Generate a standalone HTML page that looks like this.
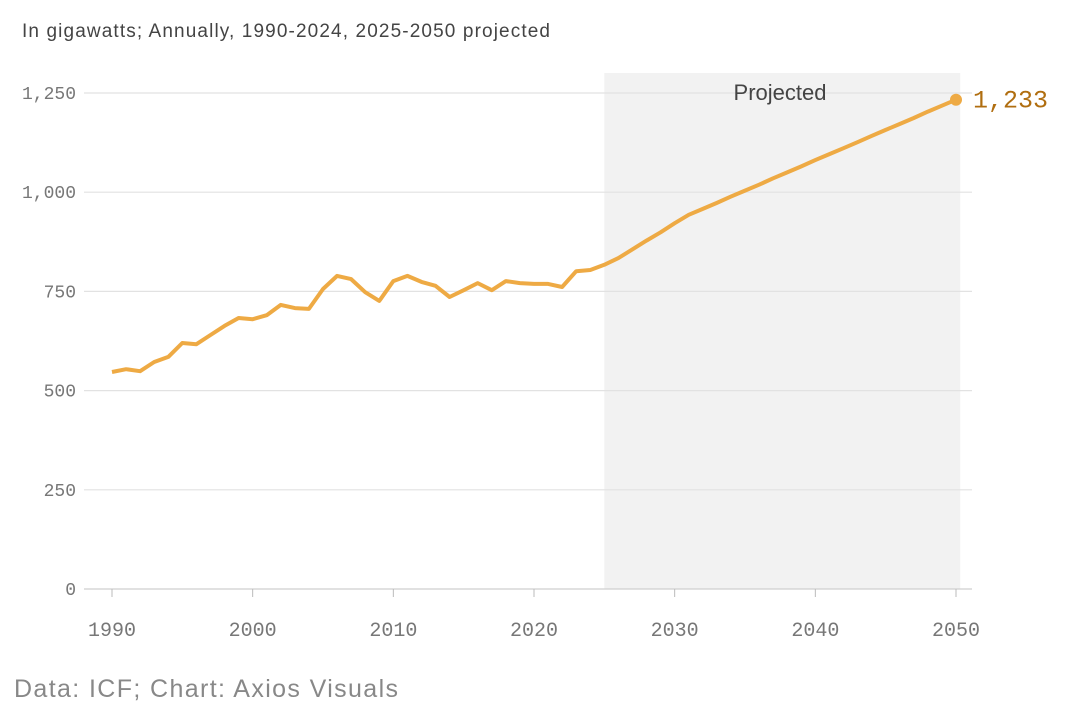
<!DOCTYPE html>
<html><head><meta charset="utf-8"><style>
body{margin:0;background:#fff;width:1082px;height:716px;overflow:hidden;font-family:"Liberation Sans",sans-serif}
svg text{font-family:"Liberation Sans",sans-serif}
svg text.mono{font-family:"Liberation Mono",monospace}
</style></head><body>
<svg width="1082" height="716">
<text x="22" y="37" font-size="19" textLength="528" fill="#444">In gigawatts; Annually, 1990-2024, 2025-2050 projected</text>
<rect id="proj" fill="#f2f2f2"></rect>
<g id="grid"></g>
<g id="xt"></g>
<text id="projlabel" font-size="22" fill="#444" text-anchor="middle">Projected</text>
<path id="line" fill="none" stroke="#eeaa44" stroke-width="4" stroke-linejoin="round"></path>
<circle id="endpt" r="6" fill="#eeaa44"></circle>
<text id="endlbl" class="mono" font-size="25" fill="#b06e10">1,233</text>
<text x="14" y="697" font-size="25" textLength="384" fill="#888">Data: ICF; Chart: Axios Visuals</text>
</svg>
<script>
const years=[1990,1991,1992,1993,1994,1995,1996,1997,1998,1999,2000,2001,2002,2003,2004,2005,2006,2007,2008,2009,2010,2011,2012,2013,2014,2015,2016,2017,2018,2019,2020,2021,2022,2023,2024,2025,2026,2027,2028,2029,2030,2031,2032,2033,2034,2035,2036,2037,2038,2039,2040,2041,2042,2043,2044,2045,2046,2047,2048,2049,2050];
const values=[547,554,549,572,585,620,617,640,663,683,680,690,716,708,706,756,789,781,748,726,776,789,774,764,736,753,771,753,776,771,769,769,761,801,804,817,834,856,878,899,922,943,958,973,989,1004,1019,1035,1050,1065,1081,1096,1111,1126,1142,1157,1172,1187,1203,1218,1233];
const yTicks=[0,250,500,750,1000,1250];
const yTickLabels=["0","250","500","750","1,000","1,250"];
const xTicks=[1990,2000,2010,2020,2030,2040,2050];
const projStart=2025, projEnd=2050.3;
const X=v=>112+(v-1990)*(844/60);
const Y=v=>589-v*(496/1250);
const ns="http://www.w3.org/2000/svg";
const p=document.getElementById('proj');
p.setAttribute('x',X(projStart));p.setAttribute('y',73);p.setAttribute('width',X(projEnd)-X(projStart));p.setAttribute('height',516);
const g=document.getElementById('grid');
yTicks.forEach((t,i)=>{
 const l=document.createElementNS(ns,'line');
 
 
 l.setAttribute('x1',84);l.setAttribute('x2',972);l.setAttribute('y1',Y(t));l.setAttribute('y2',Y(t));
 l.setAttribute('stroke',t===0?'#cfcfcf':'#e2e2e2');l.setAttribute('stroke-width',1.2);g.appendChild(l);
 const tx=document.createElementNS(ns,'text');
 
 
 tx.setAttribute('x',76);tx.setAttribute('y',Y(t)+6);tx.setAttribute('text-anchor','end');tx.setAttribute('class','mono');tx.setAttribute('font-size','18');tx.setAttribute('fill','#777');tx.textContent=yTickLabels[i];g.appendChild(tx);
});
const xg=document.getElementById('xt');
xTicks.forEach(t=>{
 const l=document.createElementNS(ns,'line');
 
 
 l.setAttribute('x1',X(t));l.setAttribute('x2',X(t));l.setAttribute('y1',589);l.setAttribute('y2',597);l.setAttribute('stroke','#bbb');xg.appendChild(l);
 const tx=document.createElementNS(ns,'text');
 
 
 tx.setAttribute('x',X(t));tx.setAttribute('y',636);tx.setAttribute('text-anchor','middle');tx.setAttribute('class','mono');tx.setAttribute('font-size','20');tx.setAttribute('fill','#777');tx.textContent=t;xg.appendChild(tx);
});
document.getElementById('line').setAttribute('d',years.map((y,i)=>(i?'L':'M')+X(y).toFixed(1)+','+Y(values[i]).toFixed(1)).join(''));
const lx=X(years[years.length-1]),ly=Y(values[values.length-1]);
const e=document.getElementById('endpt');e.setAttribute('cx',lx);e.setAttribute('cy',ly);
const el=document.getElementById('endlbl');el.setAttribute('x',lx+17);el.setAttribute('y',ly+8);
el.textContent=values[values.length-1].toLocaleString('en-US');
const pl=document.getElementById('projlabel');pl.setAttribute('x',780);pl.setAttribute('y',Y(1250)+7);
</script>
</body></html>
